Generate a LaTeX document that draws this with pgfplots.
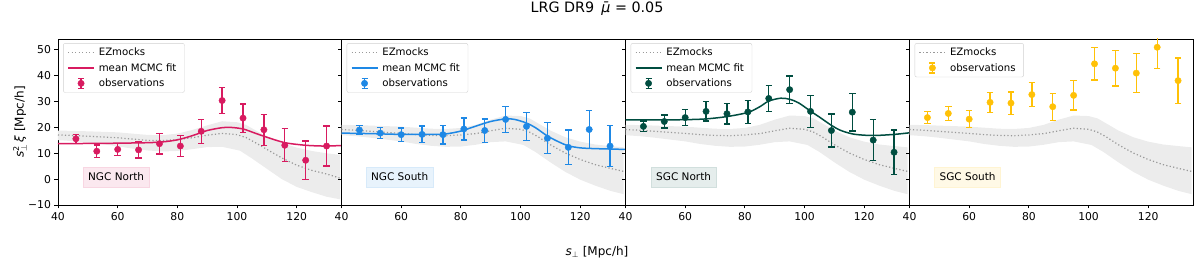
\documentclass[border=0pt]{standalone}
\usepackage{pgfplots}
\pgfplotsset{compat=1.18}
\usepackage{amsmath}
\usepackage{fontspec}
\setmainfont{DejaVu Sans}
\definecolor{cA}{HTML}{D81B60}
\definecolor{cB}{HTML}{1E88E5}
\definecolor{cC}{HTML}{004D40}
\definecolor{cD}{HTML}{FFC107}
\definecolor{bandc}{HTML}{ECECEC}
\definecolor{ezgray}{HTML}{999999}
\pgfplotsset{
 panel/.style={
  at={(#1,55pt)}, anchor=south west,
  scale only axis, width=283.5pt, height=166pt,
  xmin=40, xmax=135, ymin=-10, ymax=54.2,
  xtick={40,60,...,120}, ytick={-10,0,...,50},
  tick align=outside, tick pos=left, major tick length=3.5pt,
  every tick/.style={black, line width=0.8pt},
  axis line style={line width=0.8pt},
  tick label style={font=\fontsize{10.8}{12}\selectfont},
  /pgf/number format/assume math mode=true,
  legend style={at={(0.018,0.975)}, anchor=north west, draw=black!18, rounded corners=2pt, fill=white, font=\fontsize{10.2}{12}\selectfont, row sep=2.2pt, inner xsep=4pt, inner ysep=2.5pt, nodes={inner xsep=4pt}},
  legend cell align=left,
  legend image code/.code={\draw[##1] (0pt,0pt) -- (26pt,0pt);},
 },
 ez/.style={ezgray, line width=1.2pt, dash pattern=on 1.2pt off 2.3pt},
 fit/.style={#1, line width=1.5pt, smooth},
 obs/.style={color=#1, mark=*, only marks, mark size=3.2pt, mark options={fill=#1, draw=#1},
  error bars/y dir=both, error bars/y explicit,
  error bars/error bar style={line width=1.3pt, draw=#1},
  error bars/error mark options={rotate=90, line width=1.3pt, mark size=3.2pt, draw=#1, color=#1},
  legend image code/.code={\draw[#1, line width=1.3pt] (13pt,-5pt)--(13pt,5pt) (10pt,5pt)--(16pt,5pt) (10pt,-5pt)--(16pt,-5pt); \fill[#1] (13pt,0pt) circle (3.2pt);}},
}
\tikzset{lab/.style={fill=#1!10, draw=#1!18, inner xsep=5pt, minimum height=20pt, font=\fontsize{10.5}{12}\selectfont}}
\begin{document}
\begin{tikzpicture}
\useasboundingbox (0,0) rectangle (1200pt,260pt);
% ---------- NGC North
\begin{axis}[panel=58pt,
  yticklabels={−10,0,10,20,30,40,50},
  ylabel={$\text{\itshape s}^{\text{2}}_{\perp}\,\text{\itshape ξ}$ [Mpc/h]},
  ylabel style={at={(axis description cs:-0.134,0.5)}, anchor=center, font=\fontsize{12}{14}\selectfont}]
\addplot[fill=bandc, draw=none, forget plot] coordinates {
(40,18.8)(50,18.5)(60,18.1)(65,17.6)(70,17.1)(75,17.0)(80,17.6)(85,19.0)(90,20.8)(95,22.4)(100,22.0)(103,21.0)(106,19.0)(110,16.5)(115,14.0)(120,12.2)(125,10.9)(130,10.0)(134.5,9.4)
(134.5,-7.8)(130,-6.8)(125,-5.0)(120,-3.0)(115,0.0)(110,4.0)(105,8.0)(101,11.0)(95,12.5)(90,12.4)(85,11.6)(80,10.9)(75,10.7)(70,11.1)(65,11.8)(60,12.7)(55,13.5)(50,14.2)(45,14.7)(40,15.1)};
\addplot[ez] coordinates {(40,17.1)(45,16.9)(50,16.6)(55,16.3)(60,16.0)(65,15.5)(70,15.0)(75,14.9)(80,15.3)(85,16.0)(90,17.0)(95,17.7)(100,17.2)(103,16.1)(106,14.2)(110,11.5)(115,8.2)(120,5.4)(125,3.4)(130,2.0)(134.5,0.4)};
\addplot[fit=cA] coordinates {(40,13.7)(50,13.8)(60,13.9)(70,14.1)(75,14.4)(80,15.2)(85,16.8)(90,18.8)(95,19.9)(98,20.0)(102,19.4)(106,17.8)(110,16.2)(116,14.1)(122,13.2)(126,12.9)(130,12.8)(135,13.0)};
\addplot[obs=cA] coordinates {
(46,15.6) +- (0,1.7) (53,10.8) +- (0,2.4) (60,11.5) +- (0,2.4) (67,11.3) +- (0,3.1)
(74,13.7) +- (0,4.0) (81,12.8) +- (0,4.1) (88,18.5) +- (0,4.7) (95,30.4) +- (0,5.1)
(102,23.6) +- (0,5.5) (109,19.1) +- (0,6.0) (116,13.1) +- (0,6.4) (123,7.3) +- (0,7.4) (130,12.8) +- (0,7.7)};
\legend{EZmocks, mean MCMC fit, observations}
\node[lab=cA] at (rel axis cs:0.205,0.17) {NGC North};
\end{axis}
% ---------- NGC South
\begin{axis}[panel=341.5pt, yticklabels={}]
\addplot[fill=bandc, draw=none, forget plot] coordinates {
(40,21.0)(45,20.9)(50,20.7)(55,20.5)(60,20.3)(65,19.9)(70,19.5)(75,19.4)(80,19.8)(85,21.0)(90,23.0)(95,24.6)(100,24.4)(103,23.5)(106,21.5)(110,18.8)(115,16.2)(120,14.5)(125,13.4)(130,12.8)(134.5,12.3)
(134.5,-5.8)(130,-4.5)(125,-2.5)(120,-0.2)(115,2.8)(110,6.5)(105,10.5)(101,13.2)(95,14.6)(90,14.3)(85,13.3)(80,12.6)(75,12.5)(70,12.9)(65,13.6)(60,14.6)(55,15.3)(50,16.0)(45,16.6)(40,17.0)};
\addplot[ez] coordinates {(40,19.2)(45,18.9)(50,18.5)(55,18.1)(60,17.7)(65,17.2)(70,16.9)(75,16.8)(80,17.1)(85,17.6)(90,18.7)(95,19.7)(100,19.3)(103,18.2)(106,16.3)(110,13.3)(115,10.1)(120,7.6)(125,5.6)(130,4.2)(134.5,3.0)};
\addplot[fit=cB] coordinates {(40,17.8)(50,17.6)(60,17.3)(70,17.3)(75,17.5)(80,18.6)(85,20.5)(90,22.3)(95,23.3)(98,23.1)(102,21.7)(105,19.9)(109,16.7)(113,14.3)(116,12.9)(120,12.1)(125,11.8)(135,11.5)};
\addplot[obs=cB] coordinates {
(46,19.0) +- (0,1.8) (53,17.8) +- (0,2.2) (60,17.2) +- (0,2.6) (67,17.3) +- (0,3.2)
(74,17.2) +- (0,3.6) (81,19.4) +- (0,4.3) (88,18.8) +- (0,4.5) (95,23.1) +- (0,5.0)
(102,20.4) +- (0,5.4) (109,15.8) +- (0,6.0) (116,12.3) +- (0,6.7) (123,19.2) +- (0,7.4) (130,12.8) +- (0,8.0)};
\legend{EZmocks, mean MCMC fit, observations}
\node[lab=cB] at (rel axis cs:0.205,0.17) {NGC South};
\end{axis}
% ---------- SGC North
\begin{axis}[panel=625.5pt, yticklabels={}]
\addplot[fill=bandc, draw=none, forget plot] coordinates {
(40,21.0)(45,20.9)(50,20.7)(55,20.5)(60,20.3)(65,19.9)(70,19.5)(75,19.4)(80,19.8)(85,21.0)(90,23.0)(95,24.6)(100,24.4)(103,23.5)(106,21.5)(110,18.8)(115,16.2)(120,14.5)(125,13.4)(130,12.8)(134.5,12.3)
(134.5,-5.8)(130,-4.5)(125,-2.5)(120,-0.2)(115,2.8)(110,6.5)(105,10.5)(101,13.2)(95,14.6)(90,14.3)(85,13.3)(80,12.6)(75,12.5)(70,12.9)(65,13.6)(60,14.6)(55,15.3)(50,16.0)(45,16.6)(40,17.0)};
\addplot[ez] coordinates {(40,19.2)(45,18.9)(50,18.5)(55,18.1)(60,17.7)(65,17.2)(70,16.9)(75,16.8)(80,17.1)(85,17.6)(90,18.7)(95,19.7)(100,19.3)(103,18.2)(106,16.3)(110,13.3)(115,10.1)(120,7.6)(125,5.6)(130,4.2)(134.5,3.0)};
\addplot[fit=cC] coordinates {(40,22.9)(50,22.9)(60,23.0)(67,23.3)(74,24.2)(81,25.8)(85,28.0)(88,30.2)(92,31.3)(95,30.9)(98,29.5)(102,26.3)(105,24.0)(109,20.8)(112,18.9)(116,17.5)(120,17.0)(124,16.9)(130,17.3)(135,17.9)};
\addplot[obs=cC] coordinates {
(46,20.4) +- (0,2.1) (53,22.3) +- (0,2.5) (60,23.8) +- (0,3.1) (67,26.2) +- (0,3.7)
(74,25.3) +- (0,4.0) (81,26.0) +- (0,4.5) (88,31.2) +- (0,5.0) (95,34.6) +- (0,5.3)
(102,26.2) +- (0,6.1) (109,18.8) +- (0,6.4) (116,25.9) +- (0,7.3) (123,15.1) +- (0,7.9) (130,10.4) +- (0,8.6)};
\legend{EZmocks, mean MCMC fit, observations}
\node[lab=cC] at (rel axis cs:0.205,0.17) {SGC North};
\end{axis}
% ---------- SGC South
\begin{axis}[panel=909.5pt, yticklabels={}]
\addplot[fill=bandc, draw=none, forget plot] coordinates {
(40,21.0)(45,20.9)(50,20.7)(55,20.5)(60,20.3)(65,19.9)(70,19.5)(75,19.4)(80,19.8)(85,21.0)(90,23.0)(95,24.6)(100,24.4)(103,23.5)(106,21.5)(110,18.8)(115,16.2)(120,14.5)(125,13.4)(130,12.8)(134.5,12.3)
(134.5,-5.8)(130,-4.5)(125,-2.5)(120,-0.2)(115,2.8)(110,6.5)(105,10.5)(101,13.2)(95,14.6)(90,14.3)(85,13.3)(80,12.6)(75,12.5)(70,12.9)(65,13.6)(60,14.6)(55,15.3)(50,16.0)(45,16.6)(40,17.0)};
\addplot[ez] coordinates {(40,19.2)(45,18.9)(50,18.5)(55,18.1)(60,17.7)(65,17.2)(70,16.9)(75,16.8)(80,17.1)(85,17.6)(90,18.7)(95,19.7)(100,19.3)(103,18.2)(106,16.3)(110,13.3)(115,10.1)(120,7.6)(125,5.6)(130,4.2)(134.5,3.0)};
\addplot[obs=cD] coordinates {
(46,23.8) +- (0,2.3) (53,25.4) +- (0,2.6) (60,23.2) +- (0,3.3) (67,29.7) +- (0,3.8)
(74,29.4) +- (0,4.3) (81,32.7) +- (0,4.7) (88,28.0) +- (0,5.2) (95,32.4) +- (0,5.7)
(102,44.6) +- (0,6.3) (109,42.9) +- (0,6.9) (116,41.0) +- (0,7.6) (123,51.0) +- (0,8.1) (130,38.1) +- (0,8.8)};
\legend{EZmocks, observations}
\node[lab=cD] at (rel axis cs:0.205,0.17) {SGC South};
\end{axis}
\node[font=\fontsize{14.3}{16}\selectfont] at (597pt,251pt) {LRG DR9\enspace{\itshape μ̄} = 0.05};
\node[font=\fontsize{12}{14}\selectfont] at (597pt,8pt) {$\text{\itshape s}_{\perp}$ [Mpc/h]};
\end{tikzpicture}
\end{document}
